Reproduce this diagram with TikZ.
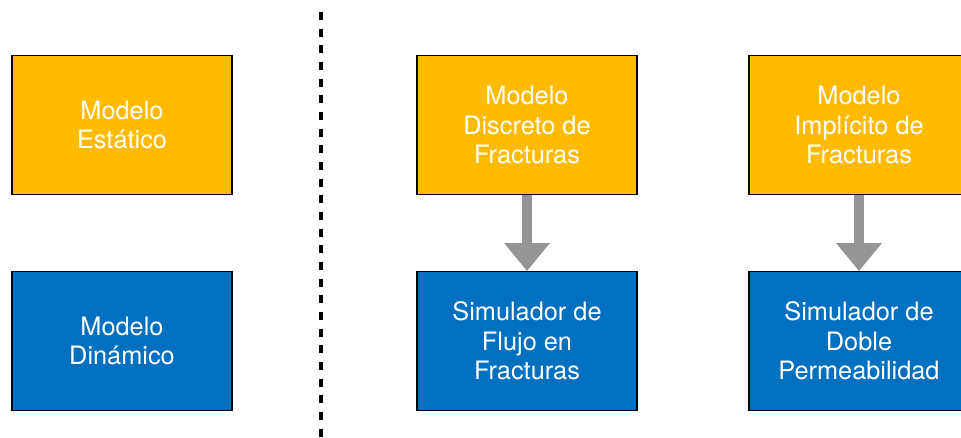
\documentclass[tikz,border=0pt]{standalone}
\usepackage{fontspec}
\setmainfont{TeX Gyre Heros}
\usetikzlibrary{arrows.meta}
\definecolor{boxyellow}{HTML}{FFBB00}
\definecolor{boxblue}{HTML}{0070BF}
\definecolor{arrowgray}{HTML}{959595}
\begin{document}
\begin{tikzpicture}[x=0.75pt,y=-0.75pt,
  box/.style={draw=black, line width=0.9pt, minimum width=165pt, minimum height=104pt,
    inner sep=0pt, align=center, text=white, font=\fontsize{19}{22.2}\selectfont},
  staticbox/.style={box, fill=boxyellow},
  dynbox/.style={box, fill=boxblue},
  flow/.style={draw=arrowgray, line width=7.5pt,
    -{Triangle[width=33pt,length=21pt]}, shorten <=0.4pt},
  divider/.style={line width=3pt, dash pattern=on 6pt off 6.5pt}]
\useasboundingbox (0,0) rectangle (961,438);
\node[staticbox] (est) at (122,125) {Modelo\\Estático};
\node[dynbox] (din) at (122,341) {Modelo\\Dinámico};
\node[staticbox] (dfn) at (527,125) {Modelo\\Discreto de\\Fracturas};
\node[dynbox] (sff) at (527,341) {Simulador de\\Flujo en\\Fracturas};
\node[staticbox] (imp) at (859,125) {Modelo\\Implícito de\\Fracturas};
\node[dynbox] (dp) at (859,341) {Simulador de\\Doble\\Permeabilidad};
\coordinate (divtop) at (321,12);
\coordinate (divbot) at (321,440);
\draw[divider] (divtop) -- (divbot);
\draw[flow] (dfn.south) -- (sff.north);
\draw[flow] (imp.south) -- (dp.north);
\end{tikzpicture}
\end{document}
